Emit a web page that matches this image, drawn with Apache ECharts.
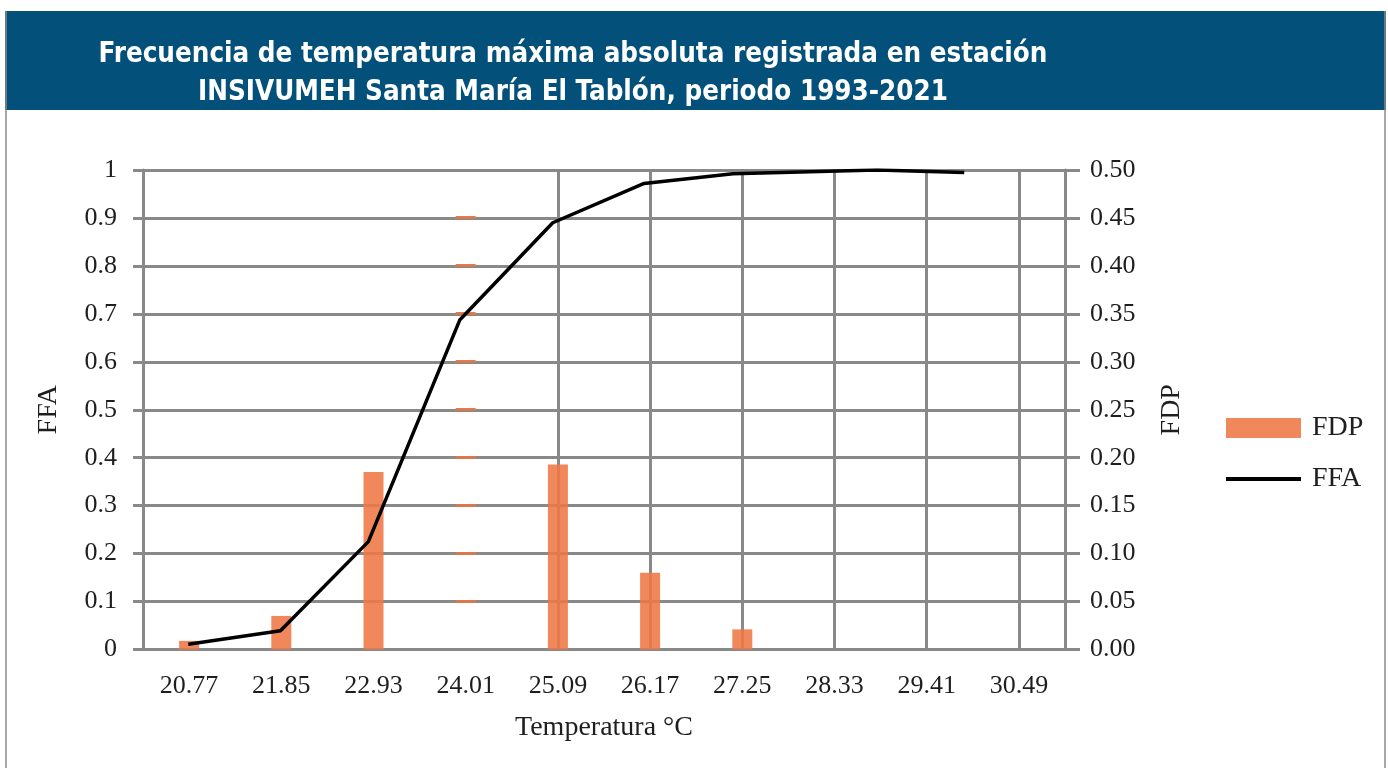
<!DOCTYPE html>
<html><head><meta charset="utf-8">
<script src="https://cdn.jsdelivr.net/npm/echarts@6/dist/echarts.min.js"></script>
<style>html,body{margin:0;padding:0;background:#fff}#c{width:1388px;height:768px}</style>
</head><body><div id="c"></div>
<script>
// ---- data ----
const categories = ['20.77','21.85','22.93','24.01','25.09','26.17','27.25','28.33','29.41','30.49'];
const fdpValues = [0.009, 0.035, 0.185, 0.462, 0.193, 0.080, 0.021, 0, 0, 0];
const ffaTemps  = [20.76, 21.84, 22.87, 23.94, 25.03, 26.10, 27.14, 28.83, 29.85];
const ffaValues = [0.011, 0.039, 0.225, 0.687, 0.890, 0.972, 0.992, 1.000, 0.995];
const ffaAxis = { min: 0, max: 1, interval: 0.1 };
const fdpAxis = { min: 0, max: 0.5, interval: 0.05 };
const ghostBarIndex = 3;           // bar hidden in the source, only visible across gridlines
const verticalLineCategories = categories.slice(4);
const titleText = 'Frecuencia de temperatura máxima absoluta registrada en estación\nINSIVUMEH Santa María El Tablón, periodo 1993-2021';

const GRAY = '#898989';
const BAR = 'rgba(238,120,70,0.88)';
const SERIF = "'Liberation Serif', 'DejaVu Serif', serif";
const TXT = '#1e1e1e';
const binW = parseFloat(categories[1]) - parseFloat(categories[0]);
const tMin = parseFloat(categories[0]) - binW / 2;
const tMax = parseFloat(categories[categories.length - 1]) + binW / 2;

const chart = echarts.init(document.getElementById('c'), null, { renderer: 'canvas' });

function barData(ghostColor) {
  return fdpValues.map((v, i) => i === ghostBarIndex
    ? { value: v, itemStyle: { color: ghostColor || 'rgba(0,0,0,0)' } }
    : v);
}

const option = {
  animation: false,
  backgroundColor: '#fff',
  graphic: [
    { type: 'rect', shape: { x: 5, y: 11, width: 1381, height: 99 }, style: { fill: '#03517b' }, z: -1 },
    { type: 'line', shape: { x1: 6, y1: 11, x2: 6, y2: 768 }, style: { stroke: '#8a8a8a', lineWidth: 1.5 } },
    { type: 'line', shape: { x1: 1385, y1: 11, x2: 1385, y2: 768 }, style: { stroke: '#8a8a8a', lineWidth: 1.5 } }
  ],
  title: {
    text: titleText,
    left: 573, top: 36, padding: 0, textAlign: 'center',
    textStyle: { color: '#fff', fontFamily: "'DejaVu Sans Condensed', 'Liberation Sans Narrow', Roboto, sans-serif",
      fontWeight: 'bold', fontSize: 27.5, lineHeight: 38 }
  },
  legend: {
    orient: 'vertical', left: 1224, top: 414, padding: 0, itemWidth: 75, itemHeight: 20, itemGap: 23,
    data: [
      { name: 'FDP', icon: 'rect', itemStyle: { color: BAR } },
      { name: 'FFA', itemStyle: { opacity: 0 }, lineStyle: { color: '#000', width: 4 } }
    ],
    textStyle: { fontFamily: SERIF, fontSize: 28, color: TXT, lineHeight: 28, padding: [0, 0, 0, 6] }
  },
  grid: { left: 143, right: 323, top: 170, bottom: 118.5, containLabel: false },
  xAxis: [
    { type: 'category', data: categories, boundaryGap: true,
      axisLine: { lineStyle: { color: GRAY, width: 3 } }, axisTick: { show: false },
      axisLabel: { fontFamily: SERIF, fontSize: 26, color: TXT, margin: 24 },
      splitLine: { show: false },
      name: 'Temperatura °C', nameLocation: 'middle', nameGap: 64,
      nameTextStyle: { fontFamily: SERIF, fontSize: 28, color: TXT } },
    { type: 'value', min: tMin, max: tMax, show: false, splitLine: { show: false } }
  ],
  yAxis: [
    { type: 'value', position: 'left', min: ffaAxis.min, max: ffaAxis.max, interval: ffaAxis.interval,
      axisLine: { show: true, lineStyle: { color: GRAY, width: 3 } },
      axisTick: { show: true, length: 10, lineStyle: { color: GRAY, width: 3 } },
      axisLabel: { fontFamily: SERIF, fontSize: 26, color: TXT, margin: 26 },
      splitLine: { show: true, lineStyle: { color: GRAY, width: 3 } },
      name: 'FFA', nameLocation: 'middle', nameGap: 80,
      nameTextStyle: { fontFamily: SERIF, fontSize: 28, color: TXT } },
    { type: 'value', position: 'right', min: fdpAxis.min, max: fdpAxis.max, interval: fdpAxis.interval,
      axisLine: { show: true, lineStyle: { color: GRAY, width: 3 } },
      axisTick: { show: true, length: 15, lineStyle: { color: GRAY, width: 3 } },
      axisLabel: { fontFamily: SERIF, fontSize: 26, color: TXT, margin: 25, formatter: v => v.toFixed(2) },
      splitLine: { show: false },
      name: 'FDP', nameLocation: 'middle', nameGap: 93, nameRotate: 90,
      nameTextStyle: { fontFamily: SERIF, fontSize: 28, color: TXT } }
  ],
  series: [
    { name: 'FDP', type: 'bar', xAxisIndex: 0, yAxisIndex: 1, barWidth: 20,
      itemStyle: { color: BAR }, data: barData(),
      markLine: { silent: true, symbol: 'none', z: 1, label: { show: false },
        lineStyle: { color: GRAY, width: 3, type: 'solid' },
        data: verticalLineCategories.map(c => ({ xAxis: c })) } },
    { name: 'FFA', type: 'line', xAxisIndex: 1, yAxisIndex: 0, symbol: 'none', showSymbol: false,
      lineStyle: { color: '#000', width: 3.5 }, itemStyle: { color: '#000' },
      data: ffaTemps.map((t, i) => [t, ffaValues[i]]), z: 3 }
  ]
};
chart.setOption(option);

// the hidden bar shows only where it crosses the gridlines: build a striped gradient from the axis scale
(function () {
  const v = fdpValues[ghostBarIndex];
  const yTop = chart.convertToPixel({ yAxisIndex: 1 }, v);
  const yBase = chart.convertToPixel({ yAxisIndex: 1 }, 0);
  const h = yBase - yTop;
  const half = 1.5 / h;
  const stops = [{ offset: 0, color: 'rgba(0,0,0,0)' }];
  for (let g = ffaAxis.min + ffaAxis.interval; g < ffaAxis.max + 1e-9; g += ffaAxis.interval) {
    const yg = chart.convertToPixel({ yAxisIndex: 0 }, g);
    if (yg < yTop || yg > yBase) continue;
    const o = (yg - yTop) / h;
    stops.push({ offset: Math.max(0, o - half), color: 'rgba(0,0,0,0)' });
    stops.push({ offset: Math.max(0, o - half), color: 'rgba(222,120,72,0.95)' });
    stops.push({ offset: Math.min(1, o + half), color: 'rgba(222,120,72,0.95)' });
    stops.push({ offset: Math.min(1, o + half), color: 'rgba(0,0,0,0)' });
  }
  stops.push({ offset: 1, color: 'rgba(0,0,0,0)' });
  chart.setOption({ series: [{ name: 'FDP', data: barData(new echarts.graphic.LinearGradient(0, 0, 0, 1, stops)) }] });
})();
</script>
</body></html>
